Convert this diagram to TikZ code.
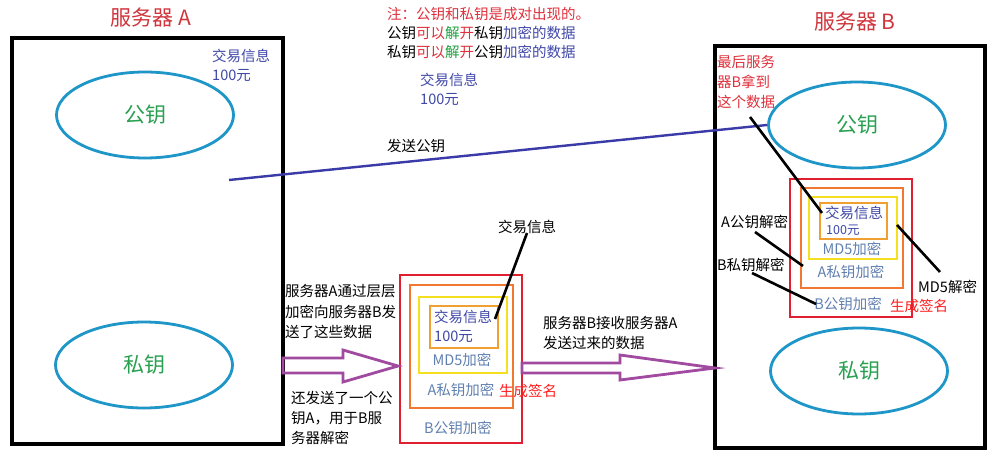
\documentclass[tikz,border=0pt]{standalone}
\usepackage{fontspec}
\setmainfont{Noto Sans CJK SC}
\usetikzlibrary{shapes.geometric}
\definecolor{titlered}{HTML}{D0343C}
\definecolor{notered}{HTML}{E0303C}
\definecolor{infoblue}{HTML}{4048A8}
\definecolor{keygreen}{HTML}{28A050}
\definecolor{ellblue}{HTML}{1E96C8}
\definecolor{linkblue}{HTML}{3A3AA8}
\definecolor{arrpurple}{HTML}{A04AA0}
\definecolor{boxred}{HTML}{E02030}
\definecolor{boxorange}{HTML}{F07830}
\definecolor{boxyellow}{HTML}{F5E020}
\definecolor{boxinner}{HTML}{F0A030}
\definecolor{layertxt}{HTML}{6080B0}
\definecolor{signred}{HTML}{FF2020}
\definecolor{solvegreen}{HTML}{20A040}
\begin{document}
\begin{tikzpicture}[x=1pt,y=-1pt,
  server/.style={draw=black, line width=4pt, inner sep=0, fill=none},
  keyell/.style={ellipse, draw=ellblue, line width=2.8pt, minimum width=177pt, minimum height=86pt, inner sep=0, text=keygreen, font=\fontsize{21}{24}\selectfont},
  layerbox/.style={draw=#1, line width=2.6pt, inner sep=0},
  txt/.style={inner sep=0, anchor=west, font=\fontsize{14.5}{16}\selectfont, align=left},
  ctxt/.style={inner sep=0, anchor=center, font=\fontsize{14.5}{16}\selectfont},
  title/.style={inner sep=0, text=titlered, font=\fontsize{21}{24}\selectfont},
  lead/.style={draw=black, line width=2.6pt},
  hollowarrow/.style={draw=arrpurple, line width=2.8pt, line join=miter}
]
\useasboundingbox (0,0) rectangle (1000,457);
\fill[white] (0,0) rectangle (1000,457);

% titles
\node[title] (tA) at (151,18) {服务器 A};
\node[title] (tB) at (855,22) {服务器 B};

% servers
\node[server, minimum width=271pt, minimum height=405pt] (srvA) at (147.5,241) {};
\node[server, minimum width=270pt, minimum height=402pt] (srvB) at (850,247) {};

% keys
\node[keyell] (pubA) at (145,115) {公钥};
\node[keyell] (priA) at (144,365) {私钥};
\node[keyell] (pubB) at (857,125) {公钥};
\node[keyell] (priB) at (859,371) {私钥};

% info texts
\node[txt, text=infoblue] (infoA1) at (212,56) {交易信息};
\node[txt, text=infoblue] (infoA2) at (212,76) {100元};
\node[txt, text=infoblue] (infoM1) at (420,80) {交易信息};
\node[txt, text=infoblue] (infoM2) at (420,100) {100元};

% note
\node[txt, text=notered] (note1) at (387,14) {注：公钥和私钥是成对出现的。};
\node[txt] (note2) at (387,33) {公钥\textcolor{notered}{可以}\textcolor{solvegreen}{解}\textcolor{notered}{开}私钥\textcolor{infoblue}{加密的数据}};
\node[txt] (note3) at (387,52) {私钥\textcolor{notered}{可以}\textcolor{solvegreen}{解}\textcolor{notered}{开}公钥\textcolor{infoblue}{加密的数据}};

% send public key
\coordinate (sendS) at (229,180);
\draw[linkblue, line width=2.4pt] (sendS) -- (pubB.west);
\node[txt] (sendL) at (387,146) {发送公钥};

% middle nested boxes
\node[layerbox=boxred, minimum width=122pt, minimum height=168pt] (mRed) at (461,359) {};
\node[layerbox=boxorange, minimum width=103pt, minimum height=123pt] (mOr) at (461.5,346.5) {};
\node[layerbox=boxyellow, minimum width=88pt, minimum height=76pt] (mYe) at (463,335) {};
\node[layerbox=boxinner, minimum width=68pt, minimum height=42pt] (mIn) at (464,327) {};
\node[txt, text=infoblue] (mI1) at (434,317) {交易信息};
\node[txt, text=infoblue] (mI2) at (434,337) {100元};
\node[ctxt, text=layertxt] (mMD5) at (462,360) {MD5加密};
\node[ctxt, text=layertxt] (mA) at (461,390) {A私钥加密};
\node[ctxt, text=layertxt] (mB) at (458,428) {B公钥加密};
\node[txt, text=signred] (mSign) at (499,391) {生成签名};
\node[txt] (mInfoL) at (498,227) {交易信息};
\coordinate (mInfoS) at (527,233);
\coordinate (mInfoE) at (495,319);
\draw[lead] (mInfoS) -- (mInfoE);

% B nested boxes
\node[layerbox=boxred, minimum width=122pt, minimum height=138pt] (bRed) at (851,248) {};
\node[layerbox=boxorange, minimum width=102pt, minimum height=100pt] (bOr) at (852,238) {};
\node[layerbox=boxyellow, minimum width=88pt, minimum height=62pt] (bYe) at (853,228) {};
\node[layerbox=boxinner, minimum width=67pt, minimum height=36pt] (bIn) at (853.5,221) {};
\node[txt, text=infoblue] (bI1) at (825,213) {交易信息};
\node[txt, text=infoblue, font=\fontsize{12.5}{14}\selectfont] (bI2) at (826,230) {100元};
\node[ctxt, text=layertxt] (bMD5) at (852,249) {MD5加密};
\node[ctxt, text=layertxt] (bA) at (851,272) {A私钥加密};
\node[ctxt, text=layertxt] (bB) at (848,304) {B公钥加密};
\node[txt, text=signred] (bSign) at (890,306) {生成签名};

% B annotations
\node[txt, text=notered, font=\fontsize{14.5}{20}\selectfont] (lastL) at (717,82) {最后服务\\器B拿到\\这个数据};
\coordinate (lastS) at (750,117);
\coordinate (lastE) at (822,213);
\draw[lead] (lastS) -- (lastE);
\node[txt] (aPubL) at (721,222) {A公钥解密};
\coordinate (aPubS) at (755,232);
\coordinate (aPubE) at (803,266);
\draw[lead] (aPubS) -- (aPubE);
\node[txt] (bPriL) at (717,265) {B私钥解密};
\coordinate (bPriS) at (752,273);
\coordinate (bPriE) at (816,304);
\draw[lead] (bPriS) -- (bPriE);
\node[txt] (md5L) at (918,287) {MD5解密};
\coordinate (md5S) at (897,225);
\coordinate (md5E) at (940,272);
\draw[lead] (md5S) -- (md5E);

% hollow arrows
\draw[hollowarrow] (283,358) -- (343,358) -- (343,350) -- (398,366) -- (343,382) -- (343,373) -- (283,373) -- cycle;
\draw[hollowarrow] (522,363) -- (620,363) -- (620,355) -- (715,368) -- (620,380) -- (620,373) -- (522,373) -- cycle;

% arrow texts
\node[txt, font=\fontsize{14.5}{20.5}\selectfont] (sendTxt) at (285,312) {服务器A通过层层\\加密向服务器B发\\送了这些数据};
\node[txt, font=\fontsize{14.5}{20}\selectfont] (pubTxt) at (291,418) {还发送了一个公\\钥A，用于B服\\务器解密};
\node[txt, font=\fontsize{14.5}{20}\selectfont] (recvTxt) at (543,333) {服务器B接收服务器A\\发送过来的数据};
\end{tikzpicture}
\end{document}
